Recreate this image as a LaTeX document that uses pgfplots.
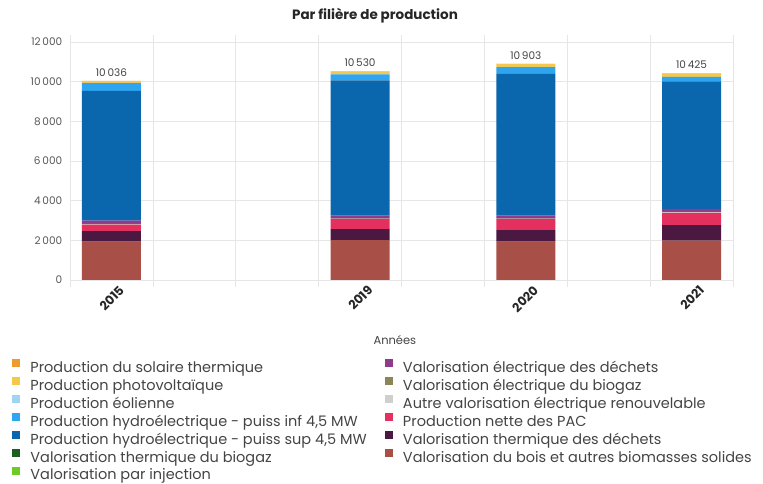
\documentclass[border=0pt]{standalone}
\usepackage{pgfplots}
\pgfplotsset{compat=1.18}
\usepackage{fontspec}
\setmainfont{Poppins}
\definecolor{cSol}{HTML}{EE9A2C}
\definecolor{cPV}{HTML}{F4C84A}
\definecolor{cEol}{HTML}{9FD4F2}
\definecolor{cHinf}{HTML}{2FA5F0}
\definecolor{cHsup}{HTML}{0A66AD}
\definecolor{cTbio}{HTML}{1D5E22}
\definecolor{cInj}{HTML}{6CCB26}
\definecolor{cEdec}{HTML}{8E3B8C}
\definecolor{cEbio}{HTML}{8C8656}
\definecolor{cAutre}{HTML}{CFCFCF}
\definecolor{cPAC}{HTML}{E3305F}
\definecolor{cTdec}{HTML}{4A1841}
\definecolor{cBois}{HTML}{A84F47}
\definecolor{gridgray}{HTML}{E6E6E6}
\definecolor{txtgray}{HTML}{444444}
\begin{document}
\begin{tikzpicture}
\path[use as bounding box] (-70pt,-204pt) rectangle (693pt,280pt);
\begin{axis}[
  scale only axis, width=663pt, height=238pt,
  ybar stacked, bar width=59pt,
  xmin=-0.5, xmax=7.5, ymin=0, ymax=12000,
  xtick={0,3,5,7}, xticklabels={2015,2019,2020,2021},
  minor xtick={-0.5,0.5,...,7.5},
  ytick={0,2000,...,12000},
  scaled y ticks=false,
  ymajorgrids, xminorgrids,
  grid style={gridgray, line width=0.6pt},
  axis line style={draw=none},
  xtick style={draw=none}, ytick style={draw=none},
  minor x tick style={draw=gridgray, line width=0.6pt},
  tick align=outside, minor tick length=7pt,
  /pgf/number format/assume math mode=true,
  /pgf/number format/1000 sep={\,},
  yticklabel style={font=\fontsize{10.5}{12}\selectfont, text=txtgray!90},
  xticklabel style={font=\fontsize{12.5}{14}\selectfont\bfseries, text=black!85, xshift=11pt, yshift=-3pt, rotate=45, anchor=east, inner sep=1pt},
  xlabel={Années},
  xlabel style={at={(axis description cs:0.49,-0.252)}, anchor=center, font=\fontsize{11.5}{13}\selectfont, text=txtgray},
  title={Par filière de production},
  title style={at={(axis description cs:0.46,1.084)}, anchor=center, yshift=0pt, font=\fontsize{13.5}{15}\selectfont\bfseries, text=black!85},
  legend columns=2,
  legend style={draw=none, fill=none, at={(axis description cs:-0.092,-0.322)}, anchor=north west,
    font=\fontsize{14.5}{17}\selectfont, text=txtgray, cells={anchor=west},
    /tikz/every even column/.append style={column sep=16pt}, row sep=1.2pt},
  sq/.style={legend image code/.code={\fill[##1, draw=none] (0pt,0pt) rectangle (8pt,8pt); \path (16pt,0pt);}},
]
\addlegendimage{sq, fill=cSol}\addlegendentry{Production du solaire thermique}
\addlegendimage{sq, fill=cEdec}\addlegendentry{Valorisation électrique des déchets}
\addlegendimage{sq, fill=cPV}\addlegendentry{Production photovoltaïque}
\addlegendimage{sq, fill=cEbio}\addlegendentry{Valorisation électrique du biogaz}
\addlegendimage{sq, fill=cEol}\addlegendentry{Production éolienne}
\addlegendimage{sq, fill=cAutre}\addlegendentry{Autre valorisation électrique renouvelable}
\addlegendimage{sq, fill=cHinf}\addlegendentry{Production hydroélectrique - puiss inf 4,5 MW}
\addlegendimage{sq, fill=cPAC}\addlegendentry{Production nette des PAC}
\addlegendimage{sq, fill=cHsup}\addlegendentry{Production hydroélectrique - puiss sup 4,5 MW}
\addlegendimage{sq, fill=cTdec}\addlegendentry{Valorisation thermique des déchets}
\addlegendimage{sq, fill=cTbio}\addlegendentry{Valorisation thermique du biogaz}
\addlegendimage{sq, fill=cBois}\addlegendentry{Valorisation du bois et autres biomasses solides}
\addlegendimage{sq, fill=cInj}\addlegendentry{Valorisation par injection}

% stacking from bottom to top
\addplot[fill=cBois, draw=none, forget plot] coordinates {(0,1930) (3,2016) (5,1930) (7,1980)};
\addplot[fill=cTdec, draw=none, forget plot] coordinates {(0,540) (3,555) (5,590) (7,790)};
\addplot[fill=cPAC, draw=none, forget plot] coordinates {(0,320) (3,500) (5,555) (7,620)};
\addplot[fill=cAutre, draw=none, forget plot] coordinates {(0,20) (3,10) (5,10) (7,20)};
\addplot[fill=cEbio, draw=none, forget plot] coordinates {(0,15) (3,15) (5,15) (7,20)};
\addplot[fill=cEdec, draw=none, forget plot] coordinates {(0,165) (3,144) (5,140) (7,150)};
\addplot[fill=cInj, draw=none, forget plot] coordinates {(0,0) (3,0) (5,0) (7,5)};
\addplot[fill=cTbio, draw=none, forget plot] coordinates {(0,0) (3,0) (5,0) (7,0)};
\addplot[fill=cHsup, draw=none, forget plot] coordinates {(0,6541) (3,6825) (5,7158) (7,6435)};
\addplot[fill=cHinf, draw=none, forget plot] coordinates {(0,400) (3,300) (5,340) (7,220)};
\addplot[fill=cEol, draw=none, forget plot] coordinates {(0,5) (3,5) (5,5) (7,5)};
\addplot[fill=cPV, draw=none, forget plot] coordinates {(0,90) (3,150) (5,150) (7,170)};
\addplot[fill=cSol, draw=none, forget plot,
  point meta=explicit symbolic, nodes near coords,
  every node near coord/.append style={font=\fontsize{10.5}{12}\selectfont, text=txtgray, anchor=south, yshift=1pt}]
  coordinates {(0,10) [10\,036] (3,10) [10\,530] (5,10) [10\,903] (7,10) [10\,425]};
\end{axis}
\end{tikzpicture}
\end{document}
